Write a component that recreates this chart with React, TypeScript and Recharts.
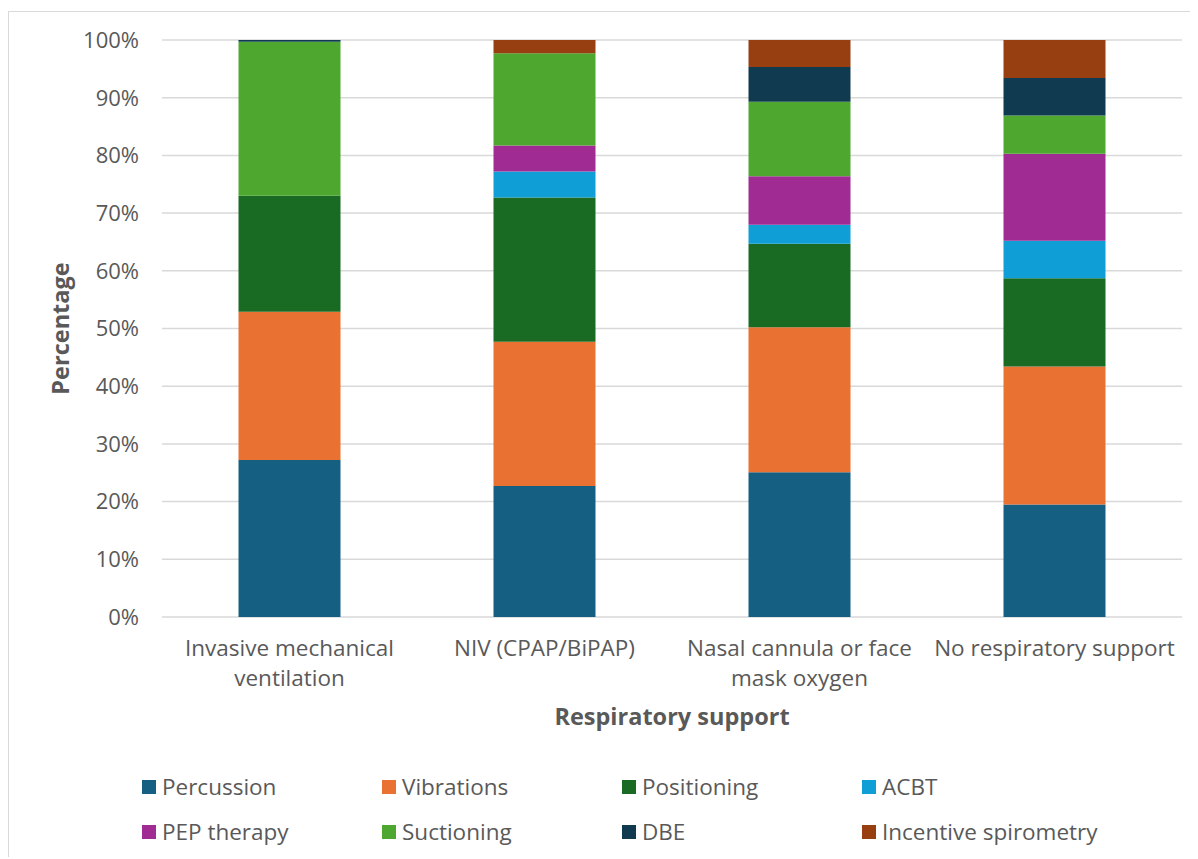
import { BarChart, Bar, XAxis, YAxis, CartesianGrid, Legend, Label } from 'recharts'

const FONT = "'Open Sans', sans-serif"
const TEXT = '#595959'

const categories = [
  'Invasive mechanical ventilation',
  'NIV (CPAP/BiPAP)',
  'Nasal cannula or face mask oxygen',
  'No respiratory support',
]
const tickLines = [
  ['Invasive mechanical', 'ventilation'],
  ['NIV (CPAP/BiPAP)'],
  ['Nasal cannula or face', 'mask oxygen'],
  ['No respiratory support'],
]
const yTicks = [0, 10, 20, 30, 40, 50, 60, 70, 80, 90, 100]

// share (%) of each technique per respiratory support group
const percussion = [27.2, 22.7, 25.1, 19.5]
const vibrations = [25.7, 25.0, 25.1, 23.9]
const positioning = [20.1, 25.0, 14.5, 15.3]
const acbt = [0, 4.5, 3.3, 6.5]
const pepTherapy = [0, 4.5, 8.4, 15.1]
const suctioning = [26.7, 16.0, 12.9, 6.6]
const dbe = [0.3, 0, 6.0, 6.5]
const incentiveSpirometry = [0, 2.3, 4.7, 6.6]

const series = [
  { name: 'Percussion', values: percussion, color: '#156082' },
  { name: 'Vibrations', values: vibrations, color: '#E97132' },
  { name: 'Positioning', values: positioning, color: '#196B24' },
  { name: 'ACBT', values: acbt, color: '#0F9ED5' },
  { name: 'PEP therapy', values: pepTherapy, color: '#A02B93' },
  { name: 'Suctioning', values: suctioning, color: '#4EA72E' },
  { name: 'DBE', values: dbe, color: '#0F3A50' },
  { name: 'Incentive spirometry', values: incentiveSpirometry, color: '#983F12' },
]

const data = categories.map((c, i) => {
  const row: Record<string, string | number> = { name: c }
  series.forEach((s) => (row[s.name] = s.values[i]))
  return row
})

function CategoryTick({ x, y, index }: any) {
  const lines = tickLines[index] ?? []
  return (
    <g>
      {lines.map((l, i) => (
        <text
          key={i}
          x={x}
          y={y + 30 + i * 30}
          textAnchor="middle"
          dominantBaseline="central"
          fill={TEXT}
          fontSize={22.5}
          fontFamily={FONT}
        >
          {l}
        </text>
      ))}
    </g>
  )
}

function XTitle({ viewBox }: any) {
  return (
    <text
      x={viewBox.x + viewBox.width / 2}
      y={viewBox.y + 99}
      textAnchor="middle"
      dominantBaseline="central"
      fill={TEXT}
      fontSize={23.5}
      fontWeight="bold"
      fontFamily={FONT}
    >
      Respiratory support
    </text>
  )
}

function YTitle({ viewBox }: any) {
  const cx = viewBox.x + 51
  const cy = viewBox.y + viewBox.height / 2
  return (
    <text
      x={cx}
      y={cy}
      transform={`rotate(-90 ${cx} ${cy})`}
      textAnchor="middle"
      dominantBaseline="central"
      fill={TEXT}
      fontSize={23.5}
      fontWeight="bold"
      fontFamily={FONT}
    >
      Percentage
    </text>
  )
}

function LegendGrid() {
  const rows = [series.slice(0, 4), series.slice(4)]
  return (
    <div style={{ paddingLeft: 133, paddingTop: 14, fontFamily: FONT }}>
      {rows.map((r, ri) => (
        <div key={ri} style={{ display: 'flex', height: 45, alignItems: 'center' }}>
          {r.map((s) => (
            <div key={s.name} style={{ width: 240, display: 'flex', alignItems: 'center' }}>
              <span style={{ width: 14, height: 14, background: s.color, marginRight: 6 }} />
              <span style={{ fontSize: 22.5, color: TEXT }}>{s.name}</span>
            </div>
          ))}
        </div>
      ))}
    </div>
  )
}

export default function App() {
  return (
    <div
      style={{
        position: 'relative',
        top: 3,
        width: 1190,
        borderTop: '1.5px solid #d9d9d9',
        borderLeft: '1.5px solid #d9d9d9',
        background: '#fff',
      }}
    >
      <BarChart
        width={1190}
        height={848}
        data={data}
        margin={{ top: 28, right: 17, left: 0, bottom: 10 }}
        barCategoryGap="30%"
        style={{ fontFamily: FONT }}
      >
        <CartesianGrid vertical={false} stroke="#d9d9d9" strokeWidth={1.5} />
        <XAxis
          dataKey="name"
          height={133}
          axisLine={false}
          tickLine={false}
          tickSize={0}
          tickMargin={0}
          interval={0}
          tick={<CategoryTick />}
        >
          <Label content={<XTitle />} />
        </XAxis>
        <YAxis
          width={153}
          domain={[0, 100]}
          ticks={yTicks}
          allowDataOverflow
          axisLine={false}
          tickLine={false}
          tickSize={0}
          tickMargin={23}
          tickFormatter={(v: number) => `${v}%`}
          tick={{ fill: TEXT, fontSize: 22, fontFamily: FONT }}
        >
          <Label content={<YTitle />} />
        </YAxis>
        <Legend
          verticalAlign="bottom"
          height={100}
          wrapperStyle={{ left: 0 }}
          content={<LegendGrid />}
        />
        {series.map((s) => (
          <Bar key={s.name} dataKey={s.name} stackId="a" fill={s.color} isAnimationActive={false} />
        ))}
      </BarChart>
    </div>
  )
}
